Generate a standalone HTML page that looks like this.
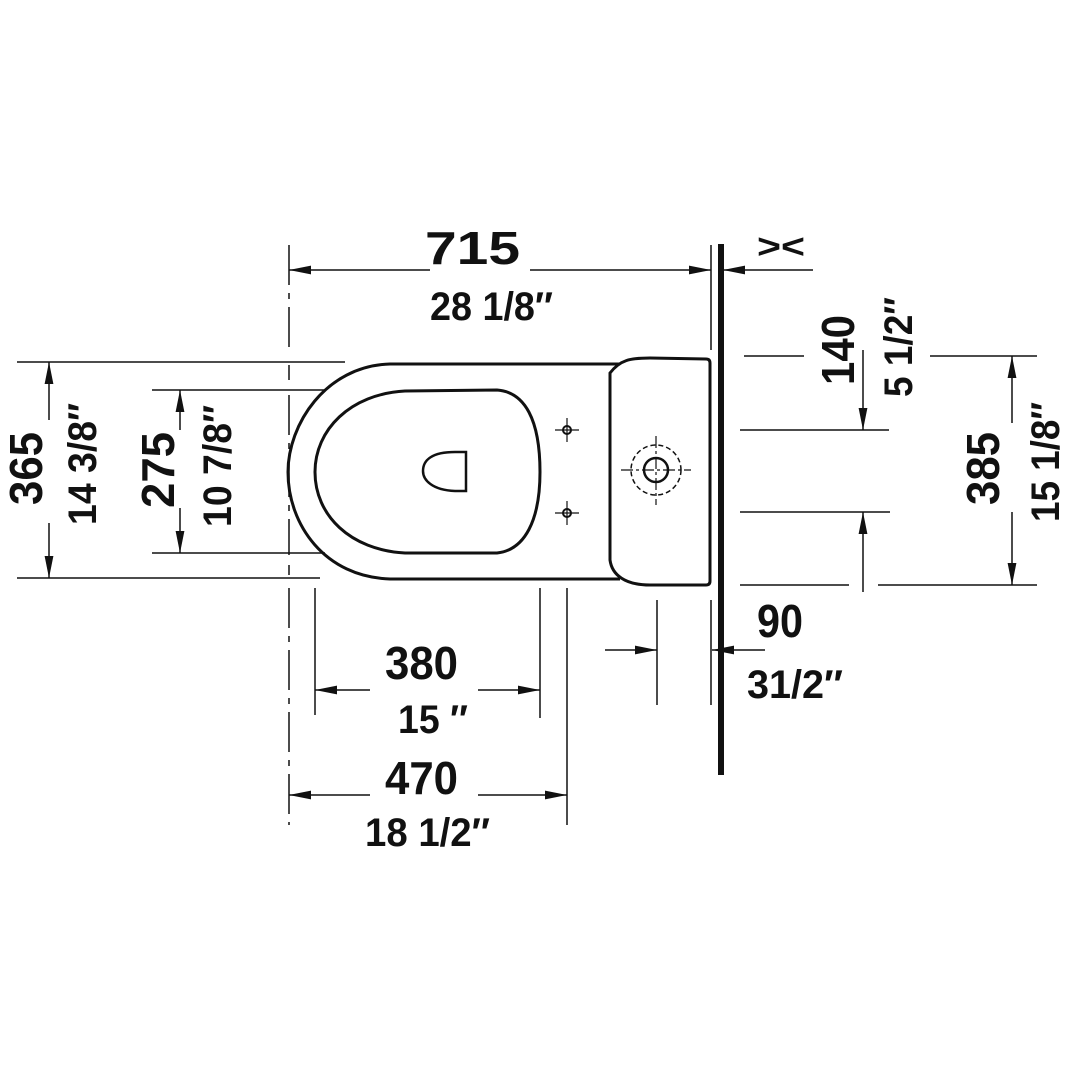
<!DOCTYPE html>
<html><head><meta charset="utf-8"><style>
html,body{margin:0;padding:0;background:#fff}
svg{display:block}
text{font-family:"Liberation Sans Narrow","Liberation Sans",sans-serif;font-weight:bold;fill:#111}
</style></head><body>
<svg width="1076" height="1076" viewBox="0 0 1076 1076" xmlns="http://www.w3.org/2000/svg">
<defs>
<marker id="b" viewBox="0 0 20 8" refX="20" refY="4" markerWidth="22" markerHeight="9" orient="auto-start-reverse" markerUnits="userSpaceOnUse"><path d="M0,0 L20,4 L0,8 z" fill="#111"/></marker>
</defs>
<g stroke="#111" fill="none" stroke-width="1.5">
<path d="M289,245 V350 M289,365 V380 M289,395 V555 M289,565 V575 M289,588 V825" stroke-dasharray="40,8,6,8"/>
<line x1="289" y1="270" x2="430" y2="270" marker-start="url(#b)"/>
<line x1="530" y1="270" x2="711" y2="270" marker-end="url(#b)"/>
<line x1="711" y1="245" x2="711" y2="350"/>
<line x1="813" y1="270" x2="723" y2="270" marker-end="url(#b)"/>
<line x1="17" y1="362" x2="345" y2="362"/>
<line x1="17" y1="578" x2="320" y2="578"/>
<line x1="49" y1="420" x2="49" y2="362" marker-end="url(#b)"/>
<line x1="49" y1="523" x2="49" y2="578" marker-end="url(#b)"/>
<line x1="152" y1="390" x2="325" y2="390"/>
<line x1="152" y1="553" x2="325" y2="553"/>
<line x1="180" y1="430" x2="180" y2="390" marker-end="url(#b)"/>
<line x1="180" y1="508" x2="180" y2="553" marker-end="url(#b)"/>
<line x1="744" y1="356" x2="804" y2="356"/>
<line x1="930" y1="356" x2="1037" y2="356"/>
<line x1="740" y1="430" x2="889" y2="430"/>
<line x1="740" y1="512" x2="890" y2="512"/>
<line x1="740" y1="585" x2="849" y2="585"/>
<line x1="878" y1="585" x2="1037" y2="585"/>
<line x1="863" y1="350" x2="863" y2="430" marker-end="url(#b)"/>
<line x1="863" y1="592" x2="863" y2="512" marker-end="url(#b)"/>
<line x1="1012" y1="423" x2="1012" y2="356" marker-end="url(#b)"/>
<line x1="1012" y1="512" x2="1012" y2="585" marker-end="url(#b)"/>
<line x1="657" y1="600" x2="657" y2="705"/>
<line x1="711" y1="600" x2="711" y2="705"/>
<line x1="605" y1="650" x2="657" y2="650" marker-end="url(#b)"/>
<line x1="765" y1="650" x2="712" y2="650" marker-end="url(#b)"/>
<line x1="315" y1="588" x2="315" y2="715"/>
<line x1="540" y1="588" x2="540" y2="718"/>
<line x1="315" y1="690" x2="370" y2="690" marker-start="url(#b)"/>
<line x1="478" y1="690" x2="540" y2="690" marker-end="url(#b)"/>
<line x1="567" y1="588" x2="567" y2="825"/>
<line x1="289" y1="795" x2="370" y2="795" marker-start="url(#b)"/>
<line x1="478" y1="795" x2="567" y2="795" marker-end="url(#b)"/>
</g>
<rect x="718" y="244" width="6" height="531" fill="#111"/>
<g stroke="#111" fill="none" stroke-width="3">
<path d="M620,364 L390,364 C325,366 288,425 288,472 C288,525 325,577 390,579 L620,579"/>
<path d="M610,373 C620,360 630,358 650,358 L706,359 Q710,359 710,363 L710,581 Q710,585 706,585 L650,585 C625,585 612,575 610,560 Z" fill="#fff"/>
<path d="M497,390 L405,391 C350,394 315,430 315,472 C315,515 350,550 405,553 L497,553 C525,550 540,520 540,472 C540,420 525,392 497,390 Z"/>
<path d="M466,452 L466,491 L455,491 C432,490 423,480 423,471 C423,460 432,452 455,452 Z" stroke-width="2.5"/>
<circle cx="567" cy="430" r="4" stroke-width="2"/>
<circle cx="567" cy="513" r="4" stroke-width="2"/>
<circle cx="656" cy="470" r="12" stroke-width="2.5"/>
<circle cx="656" cy="470" r="25" stroke-width="1.5" stroke-dasharray="5,3"/>
</g>
<g stroke="#111" stroke-width="1.2">
<path d="M555,430 H579 M567,418 V442 M555,513 H579 M567,501 V525"/>
<path d="M621,470 H691 M656,436 V505" stroke-dasharray="12,3,3,3"/>
</g>
<text x="425" y="264" font-size="46" textLength="95" lengthAdjust="spacingAndGlyphs">715</text>
<text x="430" y="320" font-size="40" textLength="123" lengthAdjust="spacingAndGlyphs">28 1/8″</text>
<text x="757" y="258" font-size="34" textLength="48" lengthAdjust="spacingAndGlyphs">&gt;&lt;</text>
<text transform="translate(42,505) rotate(-90)" font-size="46" textLength="73" lengthAdjust="spacingAndGlyphs">365</text>
<text transform="translate(96,525) rotate(-90)" font-size="40" textLength="122" lengthAdjust="spacingAndGlyphs">14 3/8″</text>
<text transform="translate(174,508) rotate(-90)" font-size="46" textLength="76" lengthAdjust="spacingAndGlyphs">275</text>
<text transform="translate(231,527) rotate(-90)" font-size="40" textLength="122" lengthAdjust="spacingAndGlyphs">10 7/8″</text>
<text transform="translate(854,385) rotate(-90)" font-size="46" textLength="70" lengthAdjust="spacingAndGlyphs">140</text>
<text transform="translate(912,397) rotate(-90)" font-size="40" textLength="100" lengthAdjust="spacingAndGlyphs">5 1/2″</text>
<text transform="translate(999,505) rotate(-90)" font-size="46" textLength="73" lengthAdjust="spacingAndGlyphs">385</text>
<text transform="translate(1059,522) rotate(-90)" font-size="40" textLength="120" lengthAdjust="spacingAndGlyphs">15 1/8″</text>
<text x="757" y="637" font-size="46" textLength="46" lengthAdjust="spacingAndGlyphs">90</text>
<text x="747" y="698" font-size="40" textLength="96" lengthAdjust="spacingAndGlyphs">31/2″</text>
<text x="385" y="679" font-size="46" textLength="73" lengthAdjust="spacingAndGlyphs">380</text>
<text x="398" y="733" font-size="40" textLength="70" lengthAdjust="spacingAndGlyphs">15 ″</text>
<text x="385" y="794" font-size="46" textLength="73" lengthAdjust="spacingAndGlyphs">470</text>
<text x="365" y="846" font-size="40" textLength="125" lengthAdjust="spacingAndGlyphs">18 1/2″</text>
</svg>
</body></html>
